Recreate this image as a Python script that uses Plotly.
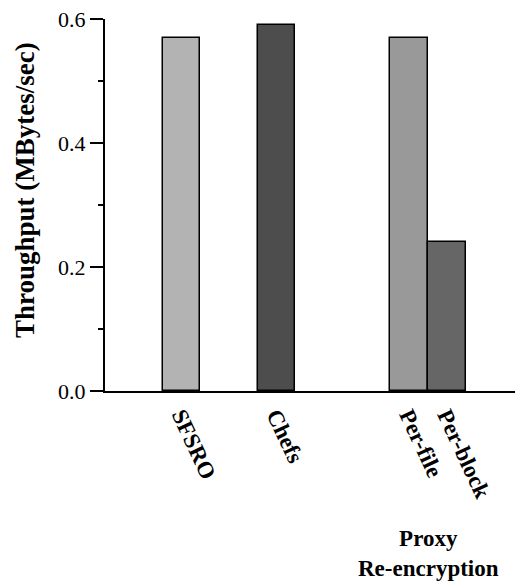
import plotly.graph_objects as go

# ---- data ----
categories = ["SFSRO", "Chefs", "Per-file", "Per-block"]
throughput = [0.57, 0.59, 0.57, 0.24]
group_label = "Proxy<br>Re-encryption"
y_title = "Throughput (MBytes/sec)"
y_ticks = [0.0, 0.2, 0.4, 0.6]
y_tick_labels = ["0.0", "0.2", "0.4", "0.6"]

# ---- styles / layout ----
bar_colors = ["#b3b3b3", "#4d4d4d", "#999999", "#666666"]
x_slots = [0, 2.5, 6, 7]

serif = "Liberation Serif, Times New Roman, serif"

# page body adds an 8px offset; compensate
OFF = 8
W, H = 523 - OFF, 582 - OFF
ML, MT, MB = 105 - OFF, 19 - OFF, 191
plot_w = W - ML
plot_h = H - MT - MB

fig = go.Figure()
fig.add_trace(go.Bar(
    x=x_slots,
    y=throughput,
    width=0.99,
    marker=dict(color=bar_colors, line=dict(color="black", width=1.5)),
    showlegend=False,
))

fig.update_layout(
    width=W, height=H,
    margin=dict(l=ML, r=0, t=MT, b=MB, pad=0),
    plot_bgcolor="white", paper_bgcolor="white",
    font=dict(family=serif, color="black", size=22),
    bargap=0,
    xaxis=dict(
        range=[-2.02, 9.0],
        tickvals=x_slots,
        ticktext=["<b>%s</b>" % c for c in categories],
        tickangle=65,
        ticks="",
        showline=True, linecolor="black", linewidth=2,
        showgrid=False, zeroline=False,
        tickfont=dict(family=serif, size=23),
    ),
    yaxis=dict(
        range=[0, 0.6],
        tickvals=y_ticks,
        ticktext=y_tick_labels,
        ticks="outside", ticklen=13, tickwidth=1.5, tickcolor="black",
        minor=dict(tickvals=[0.1, 0.3, 0.5], ticks="outside", ticklen=5, tickwidth=1.5, tickcolor="black"),
        showline=True, linecolor="black", linewidth=2,
        showgrid=False, zeroline=False,
        ticklabeloverflow="allow",
        tickfont=dict(family=serif, size=22),
    ),
    annotations=[
        dict(
            text="<b>%s</b>" % group_label,
            x=(x_slots[2] + x_slots[3]) / 2, xref="x",
            y=1 - (553 - 19) / plot_h, yref="paper", yanchor="middle",
            showarrow=False,
            font=dict(family=serif, size=23),
        ),
        dict(
            text="<b>%s</b>" % y_title,
            textangle=-90,
            x=(25 - 105) / plot_w, xref="paper", xanchor="center",
            y=1 - (190 - 19) / plot_h, yref="paper", yanchor="middle",
            showarrow=False,
            font=dict(family=serif, size=27),
        ),
    ],
)

fig.write_html("out.html")
